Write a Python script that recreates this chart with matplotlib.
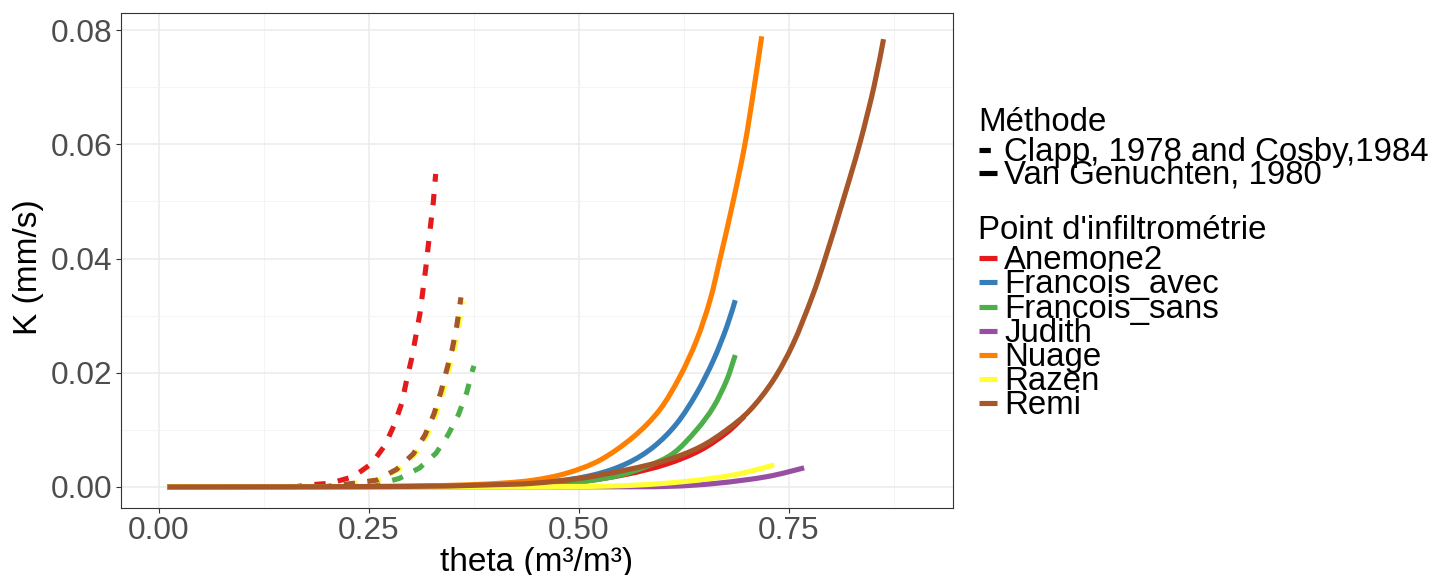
import matplotlib
matplotlib.use('Agg')
import matplotlib.pyplot as plt
from matplotlib.lines import Line2D
from matplotlib.path import Path
from matplotlib.patches import PathPatch

plt.rcParams['font.family'] = ['Liberation Sans', 'DejaVu Sans']

W, H = 1435, 575

points = ['Anemone2', 'Francois_avec', 'Francois_sans', 'Judith', 'Nuage', 'Razen', 'Remi']
colors = ['#E41A1C', '#377EB8', '#4DAF4A', '#984EA3', '#FF7F00', '#FFFF33', '#A65628']
methods = ['Clapp, 1978 and Cosby,1984', 'Van Genuchten, 1980']

# ---- Van Genuchten, 1980 (solid) ----
vg_theta_anemone2 = [0.010, 0.350, 0.450, 0.500, 0.556, 0.604, 0.644, 0.6758, 0.697]
vg_k_anemone2 = [0.0, 0.0001, 0.0004, 0.0009, 0.0022, 0.0040, 0.0064, 0.0095, 0.0124]
vg_theta_favec = [0.010, 0.300, 0.400, 0.4655, 0.517, 0.5567, 0.5885, 0.6163, 0.640, 0.660, 0.6758, 0.686]
vg_k_favec = [0.0, 0.0001, 0.0004, 0.0009, 0.0021, 0.0041, 0.0070, 0.0111, 0.0164, 0.0222, 0.0280, 0.0327]
vg_theta_fsans = [0.010, 0.300, 0.420, 0.485, 0.5409, 0.5806, 0.6123, 0.640, 0.660, 0.6758, 0.686]
vg_k_fsans = [0.0, 0.0001, 0.0003, 0.00065, 0.0018, 0.0036, 0.0059, 0.0100, 0.0140, 0.0187, 0.0231]
vg_theta_judith = [0.010, 0.500, 0.604, 0.664, 0.7234, 0.768]
vg_k_judith = [0.0, 0.00003, 0.0001, 0.00065, 0.0018, 0.00335]
vg_theta_nuage = [0.010, 0.250, 0.350, 0.406, 0.446, 0.485, 0.525, 0.565, 0.596, 0.620, 0.640, 0.656,
                  0.668, 0.6835, 0.6975, 0.7085, 0.7175]
vg_k_nuage = [0.0, 0.00005, 0.0003, 0.00065, 0.0012, 0.0024, 0.0047, 0.0088, 0.0135, 0.0193, 0.0257, 0.0327,
              0.0400, 0.0500, 0.0600, 0.0700, 0.0789]
vg_theta_razen = [0.010, 0.400, 0.545, 0.624, 0.6837, 0.7325]
vg_k_razen = [0.0, 0.00003, 0.0002, 0.00093, 0.0021, 0.00385]
vg_theta_remi = [0.010, 0.300, 0.400, 0.4456, 0.5012, 0.5567, 0.6044, 0.644, 0.6758, 0.7036, 0.7313, 0.755,
                 0.7775, 0.7930, 0.8140, 0.8340, 0.8510, 0.8625]
vg_k_remi = [0.0, 0.0001, 0.0004, 0.00065, 0.0015, 0.0030, 0.0047, 0.0070, 0.0100, 0.01346, 0.0187, 0.0251,
             0.0333, 0.0400, 0.0500, 0.0600, 0.0700, 0.0784]

# ---- Clapp, 1978 and Cosby, 1984 (dashed) ----
cc_theta_anemone2 = [0.165, 0.1778, 0.2036, 0.2313, 0.2532, 0.2690, 0.2798, 0.2889, 0.2948, 0.3008, 0.3056,
                     0.3107, 0.3175, 0.3226, 0.3266, 0.3294]
cc_k_anemone2 = [0.0001, 0.00035, 0.00065, 0.0018, 0.0041, 0.0073, 0.0108, 0.0146, 0.0187, 0.0225, 0.0263,
                 0.0304, 0.0382, 0.0449, 0.0499, 0.0548]
cc_theta_fsans = [0.230, 0.2651, 0.2861, 0.3099, 0.3298, 0.3444, 0.3563, 0.3663, 0.3734, 0.3750]
cc_k_fsans = [0.0001, 0.00065, 0.0015, 0.0033, 0.0059, 0.0092, 0.0126, 0.0165, 0.0205, 0.0212]
cc_theta_razen = [0.203, 0.2345, 0.2615, 0.2855, 0.3053, 0.3192, 0.3299, 0.3382, 0.3450, 0.3517, 0.3569, 0.3615]
cc_k_razen = [0.0001, 0.00065, 0.0012, 0.0031, 0.0058, 0.0091, 0.0128, 0.0167, 0.0205, 0.0242, 0.0281, 0.0325]
cc_theta_remi = [0.200, 0.2321, 0.2592, 0.2830, 0.3028, 0.3167, 0.3274, 0.3357, 0.3425, 0.3492, 0.3544, 0.3595]
cc_k_remi = [0.0001, 0.00065, 0.0012, 0.0031, 0.0058, 0.0091, 0.0128, 0.0167, 0.0205, 0.0242, 0.0281, 0.0332]

x_ticks = [0.00, 0.25, 0.50, 0.75]
x_tick_labels = ['0.00', '0.25', '0.50', '0.75']
y_ticks = [0.00, 0.02, 0.04, 0.06, 0.08]
y_tick_labels = ['0.00', '0.02', '0.04', '0.06', '0.08']

vg = {
    'Anemone2': (vg_theta_anemone2, vg_k_anemone2),
    'Francois_avec': (vg_theta_favec, vg_k_favec),
    'Francois_sans': (vg_theta_fsans, vg_k_fsans),
    'Judith': (vg_theta_judith, vg_k_judith),
    'Nuage': (vg_theta_nuage, vg_k_nuage),
    'Razen': (vg_theta_razen, vg_k_razen),
    'Remi': (vg_theta_remi, vg_k_remi),
}
cc = {
    'Anemone2': (cc_theta_anemone2, cc_k_anemone2),
    'Francois_sans': (cc_theta_fsans, cc_k_fsans),
    'Razen': (cc_theta_razen, cc_k_razen),
    'Remi': (cc_theta_remi, cc_k_remi),
}

LW = 3.7
DASH = (0, (2.2, 2.4))
DASH_PLOT = (1.3, (2.2, 2.4))


def smooth_path(xs, ys):
    """Catmull-Rom curve through the read points, rendered as cubic Bezier segments."""
    pts = list(zip(xs, ys))
    verts = [pts[0]]
    codes = [Path.MOVETO]
    n = len(pts)
    for i in range(n - 1):
        p0 = pts[i - 1] if i > 0 else pts[i]
        p1 = pts[i]
        p2 = pts[i + 1]
        p3 = pts[i + 2] if i + 2 < n else pts[i + 1]
        c1 = (p1[0] + (p2[0] - p0[0]) / 6.0, p1[1] + (p2[1] - p0[1]) / 6.0)
        c2 = (p2[0] - (p3[0] - p1[0]) / 6.0, p2[1] - (p3[1] - p1[1]) / 6.0)
        verts += [c1, c2, p2]
        codes += [Path.CURVE4] * 3
    return Path(verts, codes)


fig = plt.figure(figsize=(W / 100, H / 100), dpi=100)
ax = fig.add_axes([121 / W, 1 - 508 / H, 832 / W, 495 / H])

for p, c in zip(points, colors):
    if p in cc:
        t, k = cc[p]
        ax.plot(t, k, color=c, lw=LW, linestyle=DASH_PLOT, dash_capstyle='butt',
                dash_joinstyle='round', zorder=3)
    t, k = vg[p]
    ax.add_patch(PathPatch(smooth_path(t, k), fill=False, edgecolor=c, lw=LW,
                           capstyle='butt', joinstyle='round', zorder=3))

ax.set_xlim(-0.0452, 0.9452)
ax.set_ylim(-0.00368, 0.08298)
ax.set_xticks(x_ticks)
ax.set_xticklabels(x_tick_labels)
ax.set_yticks(y_ticks)
ax.set_yticklabels(y_tick_labels)
ax.set_xticks([0.125, 0.375, 0.625, 0.875], minor=True)
ax.set_yticks([0.01, 0.03, 0.05, 0.07], minor=True)
ax.grid(which='major', color='#EBEBEB', lw=1.1, zorder=0)
ax.grid(which='minor', color='#F3F3F3', lw=0.6, zorder=0)
ax.set_axisbelow(True)
ax.tick_params(which='major', length=3.6, width=0.8, color='#333333', labelsize=22.8,
               labelcolor='#4D4D4D', pad=2.5)
ax.tick_params(which='minor', length=0)
for s in ax.spines.values():
    s.set_color('#333333')
    s.set_linewidth(0.8)


def fx(x):
    return x / W


def fy(y):
    return 1 - y / H


fig.text(fx(537), fy(570.7), 'theta (m³/m³)', fontsize=24, ha='center', va='baseline')
fig.text(fx(36.5), fy(267), 'K (mm/s)', fontsize=24, ha='center', va='baseline', rotation=90,
         rotation_mode='anchor')

# Legends
LFS = 23.8
fig.text(fx(978), fy(131), 'Méthode', fontsize=LFS, ha='left', va='baseline')
m_keys_y = [149.7, 172.5]
m_styles = [DASH, '-']
for lab, ky, st in zip(methods, m_keys_y, m_styles):
    fig.add_artist(Line2D([fx(979.3), fx(997.3)], [fy(ky), fy(ky)], color='black', lw=LW,
                          linestyle=st, dash_capstyle='butt', solid_capstyle='butt'))
    fig.text(fx(1004.3), fy(ky + 11), lab, fontsize=LFS, ha='left', va='baseline')

fig.text(fx(978), fy(239.3), "Point d'infiltrométrie", fontsize=LFS, ha='left', va='baseline')
for i, (p, c) in enumerate(zip(points, colors)):
    ky = 258.3 + i * 24.17
    fig.add_artist(Line2D([fx(979.3), fx(997.3)], [fy(ky), fy(ky)], color=c, lw=LW,
                          solid_capstyle='butt'))
    fig.text(fx(1004.3), fy(ky + 11), p, fontsize=LFS, ha='left', va='baseline')

fig.savefig('out.png', dpi=100)
